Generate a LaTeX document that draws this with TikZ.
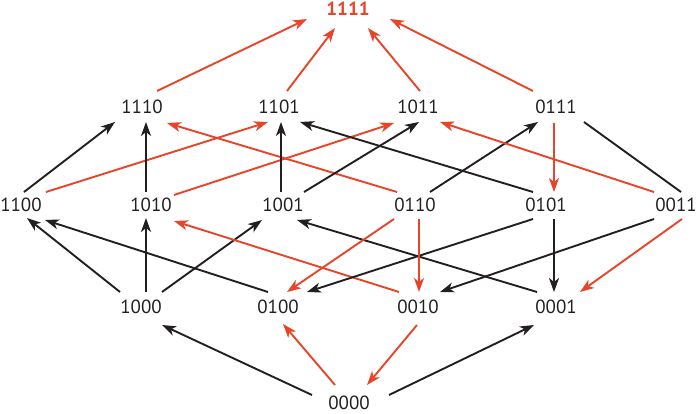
\documentclass[tikz,border=0pt]{standalone}
\usepackage{fontspec}
\setmainfont{PT Sans}
\usetikzlibrary{arrows.meta,calc}
\definecolor{myred}{RGB}{232,68,40}
\definecolor{myblack}{RGB}{35,31,32}
\tikzset{
  lbl/.style={inner sep=0pt, font=\fontsize{19}{19}\selectfont, text=myblack},
  toplbl/.style={inner sep=0pt, font=\fontsize{19}{19}\selectfont\bfseries, text=myred},
  conn/.style={line width=1.9pt},
  arr/.style={conn, -{Stealth[length=14pt,width=10pt,inset=4pt]}},
  blk/.style={arr, draw=myblack},
  rd/.style={arr, draw=myred},
  blkline/.style={conn, draw=myblack},
}
\begin{document}
\begin{tikzpicture}[x=1pt,y=-1pt]
\useasboundingbox (0,0) rectangle (697,414);
% nodes
\node[toplbl] (n1111) at (348,9) {1111};
\node[lbl] (n1110) at (142,107) {1110};
\node[lbl] (n1101) at (279,107) {1101};
\node[lbl] (n1011) at (418,107) {1011};
\node[lbl] (n0111) at (556,107) {0111};
\node[lbl] (n1100) at (21,205) {1100};
\node[lbl] (n1010) at (151,205) {1010};
\node[lbl] (n1001) at (283,205) {1001};
\node[lbl] (n0110) at (415,205) {0110};
\node[lbl] (n0101) at (546,205) {0101};
\node[lbl] (n0011) at (676,205) {0011};
\node[lbl] (n1000) at (141,307) {1000};
\node[lbl] (n0100) at (278,307) {0100};
\node[lbl] (n0010) at (418,307) {0010};
\node[lbl] (n0001) at (556,307) {0001};
\node[lbl] (n0000) at (349,402.5) {0000};
% level 3 -> top
\draw[rd] ($(n1110)+(15,-16)$) -- ($(n1111)+(-41,10)$);
\draw[rd] ($(n1101)+(8,-16)$) -- ($(n1111)+(-13,19)$);
\draw[rd] ($(n1011)+(2,-16)$) -- ($(n1111)+(20,19)$);
\draw[rd] ($(n0111)+(-23,-16)$) -- ($(n1111)+(42,10)$);
% level 2 <-> level 3
\draw[blk] ($(n1100)+(3,-13)$) -- ($(n1110)+(-27,15)$);
\draw[rd] ($(n1100)+(25,-13)$) -- ($(n1101)+(-11,15)$);
\draw[blk] ($(n1010)+(-5,-13)$) -- ($(n1110)+(4,15)$);
\draw[rd] ($(n1010)+(23,-10)$) -- ($(n1011)+(-24,16)$);
\draw[rd] ($(n0110)+(-18,-13)$) -- ($(n1110)+(25,16)$);
\draw[blk] ($(n1001)+(-2,-13)$) -- ($(n1101)+(2,15)$);
\draw[blk] ($(n1001)+(21,-13)$) -- ($(n1011)+(1,15)$);
\draw[blk] ($(n0101)+(-13,-13)$) -- ($(n1101)+(21,15)$);
\draw[blk] ($(n0110)+(15,-13)$) -- ($(n0111)+(-18,15)$);
\draw[rd] ($(n0111)+(-2,16)$) -- ($(n0101)+(8,-13)$);
\draw[blkline] ($(n0111)+(28,15)$) -- ($(n0011)+(5,-13)$);
\draw[rd] ($(n0011)+(-22,-13)$) -- ($(n1011)+(22,15)$);
% level 1 <-> level 2
\draw[blk] ($(n1000)+(-21,-15)$) -- ($(n1100)+(6,13)$);
\draw[blk] ($(n0100)+(-10,-15)$) -- ($(n1100)+(24,15)$);
\draw[blk] ($(n1000)+(5,-15)$) -- ($(n1010)+(-5,13)$);
\draw[blk] ($(n1000)+(21,-15)$) -- ($(n1001)+(-21,15)$);
\draw[rd] ($(n0010)+(-19,-15)$) -- ($(n1010)+(23,16)$);
\draw[blk] ($(n0001)+(-19,-15)$) -- ($(n1001)+(14,15)$);
\draw[rd] ($(n0110)+(-21,14)$) -- ($(n0100)+(9,-15)$);
\draw[blk] ($(n0101)+(-13,14)$) -- ($(n0100)+(29,-15)$);
\draw[rd] ($(n0110)+(4,14)$) -- ($(n0010)+(1,-15)$);
\draw[blk] ($(n0011)+(-22,14)$) -- ($(n0010)+(22,-15)$);
\draw[blk] ($(n0101)+(8,14)$) -- ($(n0001)+(-2,-15)$);
\draw[rd] ($(n0011)+(6,14)$) -- ($(n0001)+(24,-15)$);
% level 0 <-> level 1
\draw[blk] ($(n0000)+(-37,-7.5)$) -- ($(n1000)+(21,18)$);
\draw[rd] ($(n0000)+(-14,-17.5)$) -- ($(n0100)+(5,17)$);
\draw[rd] ($(n0010)+(-1,18)$) -- ($(n0000)+(18,-17.5)$);
\draw[blk] ($(n0000)+(40,-7.5)$) -- ($(n0001)+(-22,18)$);
\end{tikzpicture}
\end{document}
